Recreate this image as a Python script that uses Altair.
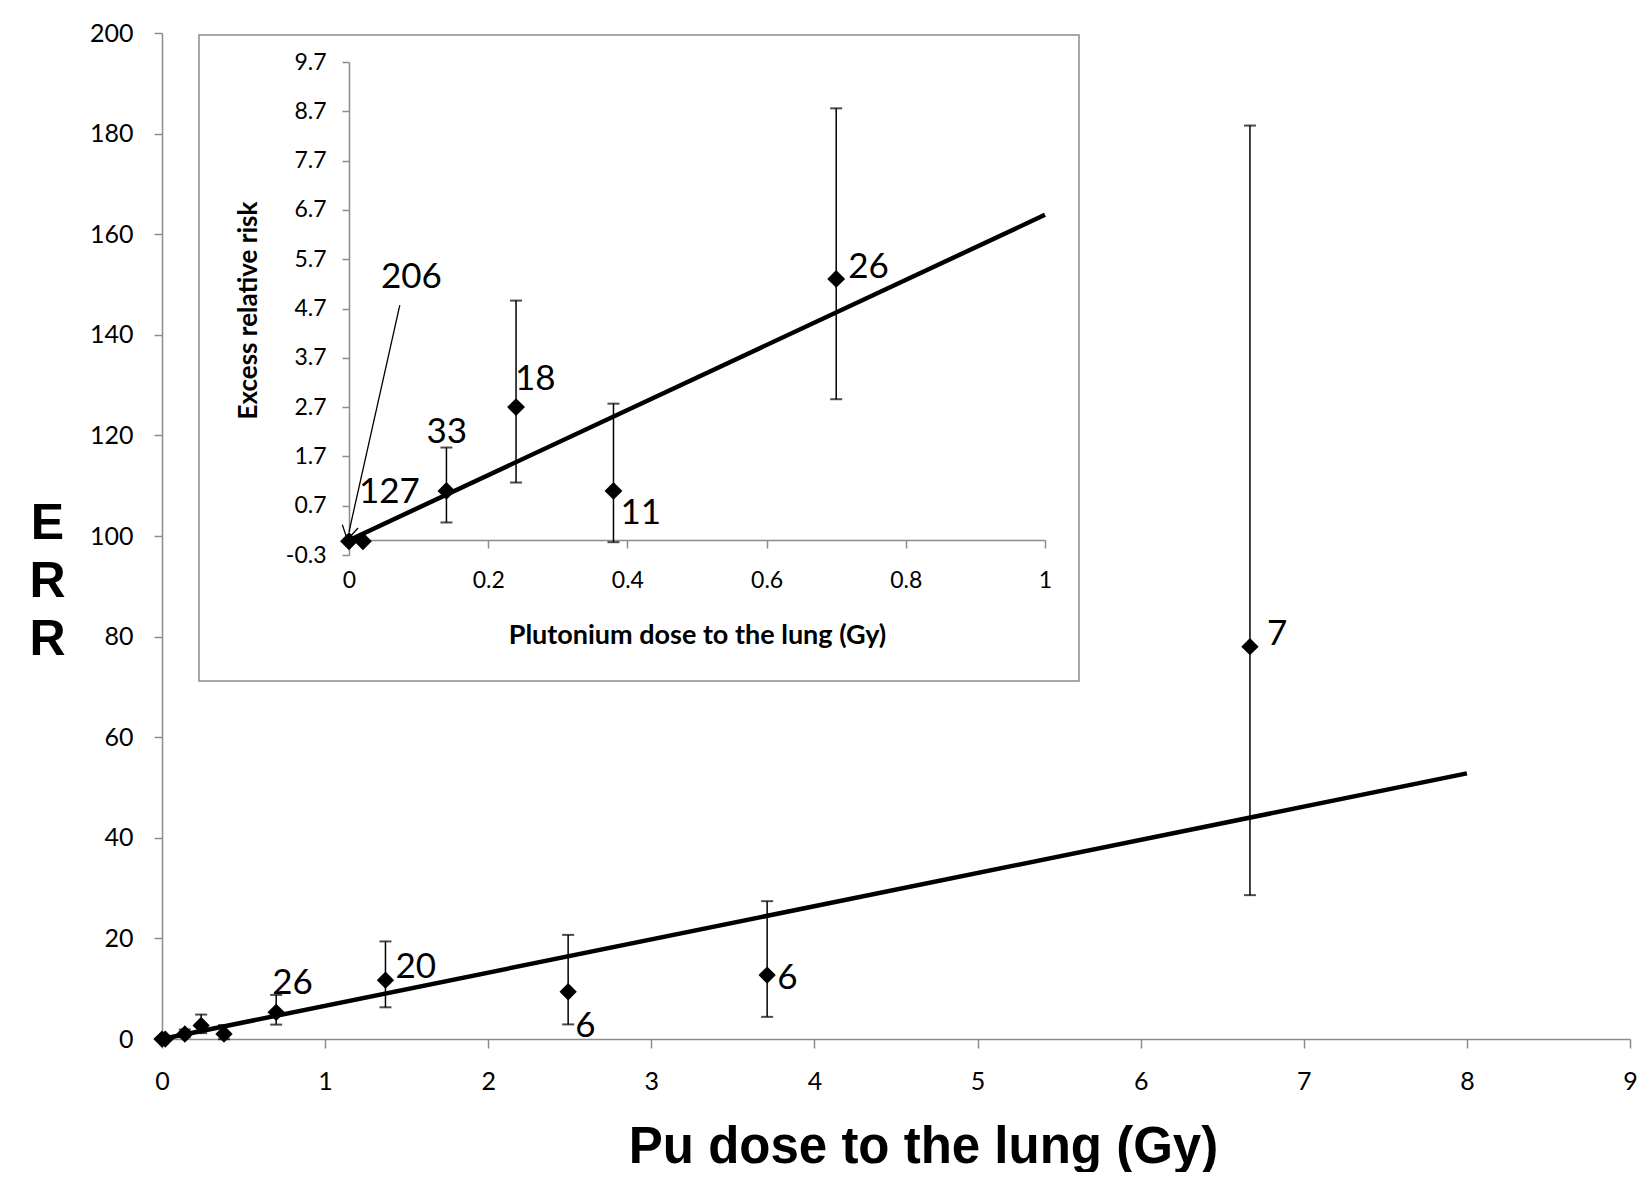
import altair as alt
import pandas as pd

# ---------------- data ----------------
dose = [0.0, 0.02, 0.14, 0.24, 0.38, 0.70, 1.37, 2.49, 3.71, 6.67]
err = [-0.02, -0.02, 1.0, 2.7, 1.0, 5.3, 11.7, 9.4, 12.7, 78.0]
ci_low = [None, None, 0.36, 1.17, -0.04, 2.86, 6.3, 2.9, 4.4, 28.6]
ci_high = [None, None, 1.88, 4.86, 2.77, 8.76, 19.4, 20.7, 27.4, 181.6]
cases = ["206", "127", "33", "18", "11", "26", "20", "6", "6", "7"]

fit_dose_main = [0.0, 8.0]
fit_err_main = [0.0, 52.8]
fit_dose_inset = [0.0, 1.0]
fit_err_inset = [0.0, 6.6]

arrow_dose = [0.073, 0.0]
arrow_err = [4.77, 0.17]

main_x_ticks = [0, 1, 2, 3, 4, 5, 6, 7, 8, 9]
main_y_ticks = [0, 20, 40, 60, 80, 100, 120, 140, 160, 180, 200]
inset_x_ticks = [0, 0.2, 0.4, 0.6, 0.8, 1]
inset_y_ticks = [-0.3, 0.7, 1.7, 2.7, 3.7, 4.7, 5.7, 6.7, 7.7, 8.7, 9.7]

# label offsets (style)
main_label_off = {0.70: (-4, -29), 1.37: (10, -13), 2.49: (7, 34), 3.71: (10, 3), 6.67: (17, -13)}
inset_label_off = {0.0: (32, -264), 0.02: (-4, -49), 0.14: (-20, -59), 0.24: (-1, -28), 0.38: (7, 22), 0.70: (12, -12)}

GRAY = "#8c8c8c"
df = pd.DataFrame({"dose": dose, "err": err, "lo": ci_low, "hi": ci_high, "cases": cases})
df_ci = df.dropna(subset=["lo", "hi"])

# ---------------- main chart ----------------
mx_scale = alt.Scale(domain=[0, 9], nice=False, zero=False)
my_scale = alt.Scale(domain=[0, 200], nice=False, zero=False)
mx_axis = alt.Axis(values=main_x_ticks, title="Pu dose to the lung (Gy)", grid=False,
                   domainColor=GRAY, domainWidth=1.5, tickColor=GRAY, tickWidth=1.5, tickSize=9,
                   labelFont="Lato", labelFontSize=25, labelColor="black", labelPadding=21,
                   labelFlush=False, labelOverlap=False,
                   titleFont="Liberation Sans", titleFontSize=51, titleFontWeight="bold",
                   titleColor="black", titleX=761, titleY=123, titleBaseline="alphabetic",
                   titleAlign="center")
my_axis = alt.Axis(values=main_y_ticks, title=["E", "R", "R"], grid=False,
                   domainColor=GRAY, domainWidth=1.5, tickColor=GRAY, tickWidth=1.5, tickSize=8,
                   labelFont="Lato", labelFontSize=25, labelColor="black", labelPadding=21,
                   labelFlush=False, labelOverlap=False,
                   titleFont="Liberation Sans", titleFontSize=50, titleFontWeight="bold",
                   titleColor="black", titleAngle=0, titleX=-115, titleY=505,
                   titleLineHeight=58, titleAlign="center", titleBaseline="alphabetic")

def MX(f):
    return alt.X(f"{f}:Q", scale=mx_scale, axis=mx_axis)

def MY(f):
    return alt.Y(f"{f}:Q", scale=my_scale, axis=my_axis)

main_fit = alt.Chart(pd.DataFrame({"dose": fit_dose_main, "err": fit_err_main})).mark_line(
    color="black", strokeWidth=4.5).encode(x=MX("dose"), y=MY("err"))
main_bar = alt.Chart(df_ci).mark_rule(color="black", strokeWidth=1.5).encode(
    x=MX("dose"), y=MY("lo"), y2="hi")
main_cap_lo = alt.Chart(df_ci).mark_tick(color="black", orient="horizontal", size=12, thickness=2).encode(
    x=MX("dose"), y=MY("lo"))
main_cap_hi = alt.Chart(df_ci).mark_tick(color="black", orient="horizontal", size=12, thickness=2).encode(
    x=MX("dose"), y=MY("hi"))
main_pts = alt.Chart(df).mark_point(shape="diamond", size=300, filled=True, color="black", opacity=1).encode(
    x=MX("dose"), y=MY("err"))
main_layers = [main_fit, main_bar, main_cap_lo, main_cap_hi, main_pts]
for d, (dx, dy) in main_label_off.items():
    sub = df[df["dose"] == d]
    main_layers.append(alt.Chart(sub).mark_text(align="left", baseline="middle", font="Lato",
                                                fontSize=35, color="black", dx=dx, dy=dy).encode(
        x=MX("dose"), y=MY("err"), text="cases:N"))
main = alt.layer(*main_layers)

# ---------------- inset chart ----------------
ix_scale = alt.Scale(domain=[0, 1], range=[187, 883], nice=False, zero=False)
iy_scale = alt.Scale(domain=[-0.3, 9.7], range=[522, 29], nice=False, zero=False)
ix_axis = alt.Axis(values=inset_x_ticks, orient="bottom", offset=-499, title="Plutonium dose to the lung (Gy)",
                   grid=False, domainColor=GRAY, domainWidth=1.5, tickColor=GRAY, tickWidth=1.5, tickSize=8,
                   labelFont="Lato", labelFontSize=23, labelColor="black", labelPadding=21,
                   labelFlush=False, labelOverlap=False, labelExpr="'' + datum.value",
                   titleFont="Lato", titleFontSize=27, titleFontWeight="bold", titleColor="black",
                   titleY=103, titleBaseline="alphabetic")
iy_axis = alt.Axis(values=inset_y_ticks, orient="left", offset=-187, title="Excess relative risk",
                   grid=False, domainColor=GRAY, domainWidth=1.5, tickColor=GRAY, tickWidth=1.5, tickSize=7,
                   labelFont="Lato", labelFontSize=23, labelColor="black", labelPadding=16,
                   labelFlush=False, labelOverlap=False, labelExpr="'' + datum.value",
                   titleFont="Lato", titleFontSize=26, titleFontWeight="bold", titleColor="black",
                   titleAngle=270, titleX=-101, titleY=277, titleBaseline="middle", titleAlign="center")

def IX(f):
    return alt.X(f"{f}:Q", scale=ix_scale, axis=ix_axis)

def IY(f):
    return alt.Y(f"{f}:Q", scale=iy_scale, axis=iy_axis)

df_in = df[df["dose"] <= 1]
df_in_ci = df_in.dropna(subset=["lo", "hi"])

frame = alt.Chart(pd.DataFrame({"k": [0]})).mark_rect(filled=False, stroke=GRAY, strokeWidth=1.5).encode(
    x=alt.value(37), x2=alt.value(917), y=alt.value(2), y2=alt.value(648))
in_fit = alt.Chart(pd.DataFrame({"dose": fit_dose_inset, "err": fit_err_inset})).mark_line(
    color="black", strokeWidth=4.5).encode(x=IX("dose"), y=IY("err"))
in_bar = alt.Chart(df_in_ci).mark_rule(color="black", strokeWidth=1.5).encode(
    x=IX("dose"), y=IY("lo"), y2="hi")
in_cap_lo = alt.Chart(df_in_ci).mark_tick(color="black", orient="horizontal", size=12, thickness=2).encode(
    x=IX("dose"), y=IY("lo"))
in_cap_hi = alt.Chart(df_in_ci).mark_tick(color="black", orient="horizontal", size=12, thickness=2).encode(
    x=IX("dose"), y=IY("hi"))
in_pts = alt.Chart(df_in).mark_point(shape="diamond", size=320, filled=True, color="black", opacity=1).encode(
    x=IX("dose"), y=IY("err"))
arrow_df = pd.DataFrame({"dose": arrow_dose, "err": arrow_err})
in_arrow = alt.Chart(arrow_df).mark_line(color="black", strokeWidth=1.3).encode(x=IX("dose"), y=IY("err"))
in_head = alt.Chart(arrow_df.iloc[[1]]).mark_point(shape="M-1,-0.7L0,1L1,-0.7", size=260, filled=False,
                                                   color="black", strokeWidth=1.3, opacity=1,
                                                   angle=12.4).encode(
    x=IX("dose"), y=IY("err"))
inset_layers = [frame, in_fit, in_bar, in_cap_lo, in_cap_hi, in_pts, in_arrow, in_head]
for d, (dx, dy) in inset_label_off.items():
    sub = df_in[df_in["dose"] == d]
    inset_layers.append(alt.Chart(sub).mark_text(align="left", baseline="middle", font="Lato",
                                                 fontSize=35, color="black", dx=dx, dy=dy).encode(
        x=IX("dose"), y=IY("err"), text="cases:N"))
inset = alt.layer(*inset_layers)

chart = alt.layer(main, inset).resolve_scale(x="independent", y="independent").properties(
    width=1468, height=1006,
    padding={"left": 154, "top": 25, "right": 9, "bottom": 133},
    autosize=alt.AutoSizeParams(type="none"),
    background="white",
).configure_view(stroke=None)

chart.save("out.html", embed_options={"renderer": "svg", "actions": False})
